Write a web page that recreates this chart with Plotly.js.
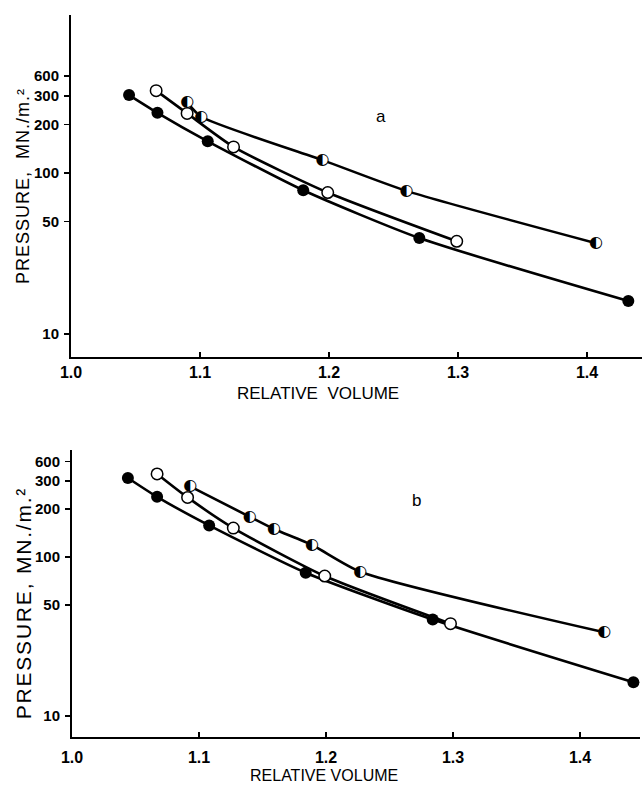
<!DOCTYPE html>
<html>
<head>
<meta charset="utf-8">
<script src="https://cdn.plot.ly/plotly-3.0.1.min.js"></script>
<style>
html,body{margin:0;padding:0;background:#fff;}
#chart{width:643px;height:786px;}
.annotation[data-index="0"] text{letter-spacing:1px;}
.annotation[data-index="1"] text{letter-spacing:1.8px;}
</style>
</head>
<body>
<div id="chart"></div>
<script>
// ---- Data (relative volume vs pressure, MN/m²) ----
// Panel a
const volA_filled = [1.045, 1.067, 1.106, 1.180, 1.270, 1.432];
const presA_filled = [304, 236, 157, 78, 39.4, 16.0];
const volA_open = [1.066, 1.090, 1.126, 1.199, 1.299];
const presA_open = [324, 234, 145, 75.5, 37.6];
const volA_half = [1.090, 1.101, 1.195, 1.260, 1.407];
const presA_half = [274, 223, 120, 77.3, 36.6];
// Panel b
const volB_filled = [1.044, 1.067, 1.108, 1.184, 1.284, 1.442];
const presB_filled = [314, 239, 158, 79.6, 40.4, 16.3];
const volB_open = [1.067, 1.091, 1.127, 1.199, 1.298];
const presB_open = [333, 237, 152, 75.9, 38.1];
const volB_half = [1.093, 1.140, 1.159, 1.189, 1.227, 1.419];
const presB_half = [278, 179, 150, 119, 80.8, 33.6];

// Tick labels (the top label in the original reads "600")
const yTickVals = [10, 50, 100, 200, 300, 400];
const yTickText = ['10', '50', '100', '200', '300', '600'];
const xTickVals = [1.0, 1.1, 1.2, 1.3, 1.4];
const xTickText = ['1.0', '1.1', '1.2', '1.3', '1.4'];

const W = 643, H = 786;
const fx = p => p / W;
const fy = p => 1 - p / H;

const lineStyle = {color: '#000', width: 2.6, shape: 'spline', smoothing: 0.6};

function filled(x, y, xa, ya) {
  return {x, y, xaxis: xa, yaxis: ya, mode: 'lines+markers', line: lineStyle,
    marker: {symbol: 'circle', size: 12, color: '#000'}, hoverinfo: 'skip', showlegend: false};
}
function open(x, y, xa, ya) {
  return {x, y, xaxis: xa, yaxis: ya, mode: 'lines+markers', line: lineStyle,
    marker: {symbol: 'circle', size: 11.5, color: '#fff', line: {color: '#000', width: 1.5}}, hoverinfo: 'skip', showlegend: false};
}
function half(x, y, xa, ya) {
  return {x, y, xaxis: xa, yaxis: ya, mode: 'lines+markers+text', line: lineStyle,
    marker: {symbol: 'circle', size: 11, color: '#fff', line: {width: 0}},
    text: x.map(() => '\u25D0'), textposition: 'middle center',
    textfont: {family: 'DejaVu Sans', size: 16, color: '#000'},
    hoverinfo: 'skip', showlegend: false};
}

const data = [
  filled(volA_filled, presA_filled, 'x', 'y'),
  open(volA_open, presA_open, 'x', 'y'),
  half(volA_half, presA_half, 'x', 'y'),
  filled(volB_filled, presB_filled, 'x2', 'y2'),
  open(volB_open, presB_open, 'x2', 'y2'),
  half(volB_half, presB_half, 'x2', 'y2')
];

const tickFontY = {family: 'Liberation Sans, Arial', size: 15, color: '#000', weight: 'bold'};
const tickFontX = {family: 'Liberation Sans, Arial', size: 16, color: '#000', weight: 'bold'};

function xAxis(domain, range, anchor, standoff) {
  return {domain, range, anchor, showgrid: false, zeroline: false, showline: true,
    linecolor: '#000', linewidth: 2, ticks: 'inside', ticklen: 5, tickwidth: 1.5, tickcolor: '#000',
    tickvals: xTickVals, ticktext: xTickText, tickfont: tickFontX, ticklabelstandoff: standoff};
}
function yAxis(domain, range, anchor) {
  return {domain, range, anchor, type: 'log', showgrid: false, zeroline: false, showline: true,
    linecolor: '#000', linewidth: 2, ticks: 'outside', ticklen: 5, tickwidth: 1.5, tickcolor: '#000',
    tickvals: yTickVals, ticktext: yTickText, tickfont: tickFontY, ticklabelstandoff: 2};
}

const layout = {
  width: W, height: H,
  margin: {l: 0, r: 0, t: 0, b: 0},
  paper_bgcolor: '#fff', plot_bgcolor: '#fff',
  xaxis: xAxis([fx(71), fx(642)], [1.0, 1.4426], 'y', 0),
  yaxis: yAxis([fy(357), fy(15)], [0.857, 2.98], 'x'),
  xaxis2: xAxis([fx(72), fx(640)], [1.0, 1.4472], 'y2', 5),
  yaxis2: yAxis([fy(737), fy(450)], [0.868, 2.673], 'x2'),
  annotations: [
    {text: 'PRESSURE,  MN./m.\u00B2', xref: 'paper', yref: 'paper', x: fx(23), y: fy(186),
      textangle: -90, showarrow: false, font: {family: 'Liberation Sans, Arial', size: 18, color: '#000'},
      xanchor: 'center', yanchor: 'middle'},
    {text: 'PRESSURE, MN./m.\u00B2', xref: 'paper', yref: 'paper', x: fx(23), y: fy(603),
      textangle: -90, showarrow: false, font: {family: 'Liberation Sans, Arial', size: 21, color: '#000'},
      xanchor: 'center', yanchor: 'middle'},
    {text: 'RELATIVE  VOLUME', xref: 'paper', yref: 'paper', x: fx(318), y: fy(393),
      showarrow: false, font: {family: 'Liberation Sans, Arial', size: 17, color: '#000'},
      xanchor: 'center', yanchor: 'middle'},
    {text: 'RELATIVE VOLUME', xref: 'paper', yref: 'paper', x: fx(324), y: fy(775),
      showarrow: false, font: {family: 'Liberation Sans, Arial', size: 16, color: '#000'},
      xanchor: 'center', yanchor: 'middle'},
    {text: 'a', xref: 'x', yref: 'y', x: 1.240, y: Math.log10(223), showarrow: false,
      font: {family: 'Liberation Sans, Arial', size: 17, color: '#000'}},
    {text: 'b', xref: 'x2', yref: 'y2', x: 1.271, y: Math.log10(226), showarrow: false,
      font: {family: 'Liberation Sans, Arial', size: 17, color: '#000'}}
  ]
};

Plotly.newPlot('chart', data, layout, {staticPlot: true, displayModeBar: false});
</script>
</body>
</html>
